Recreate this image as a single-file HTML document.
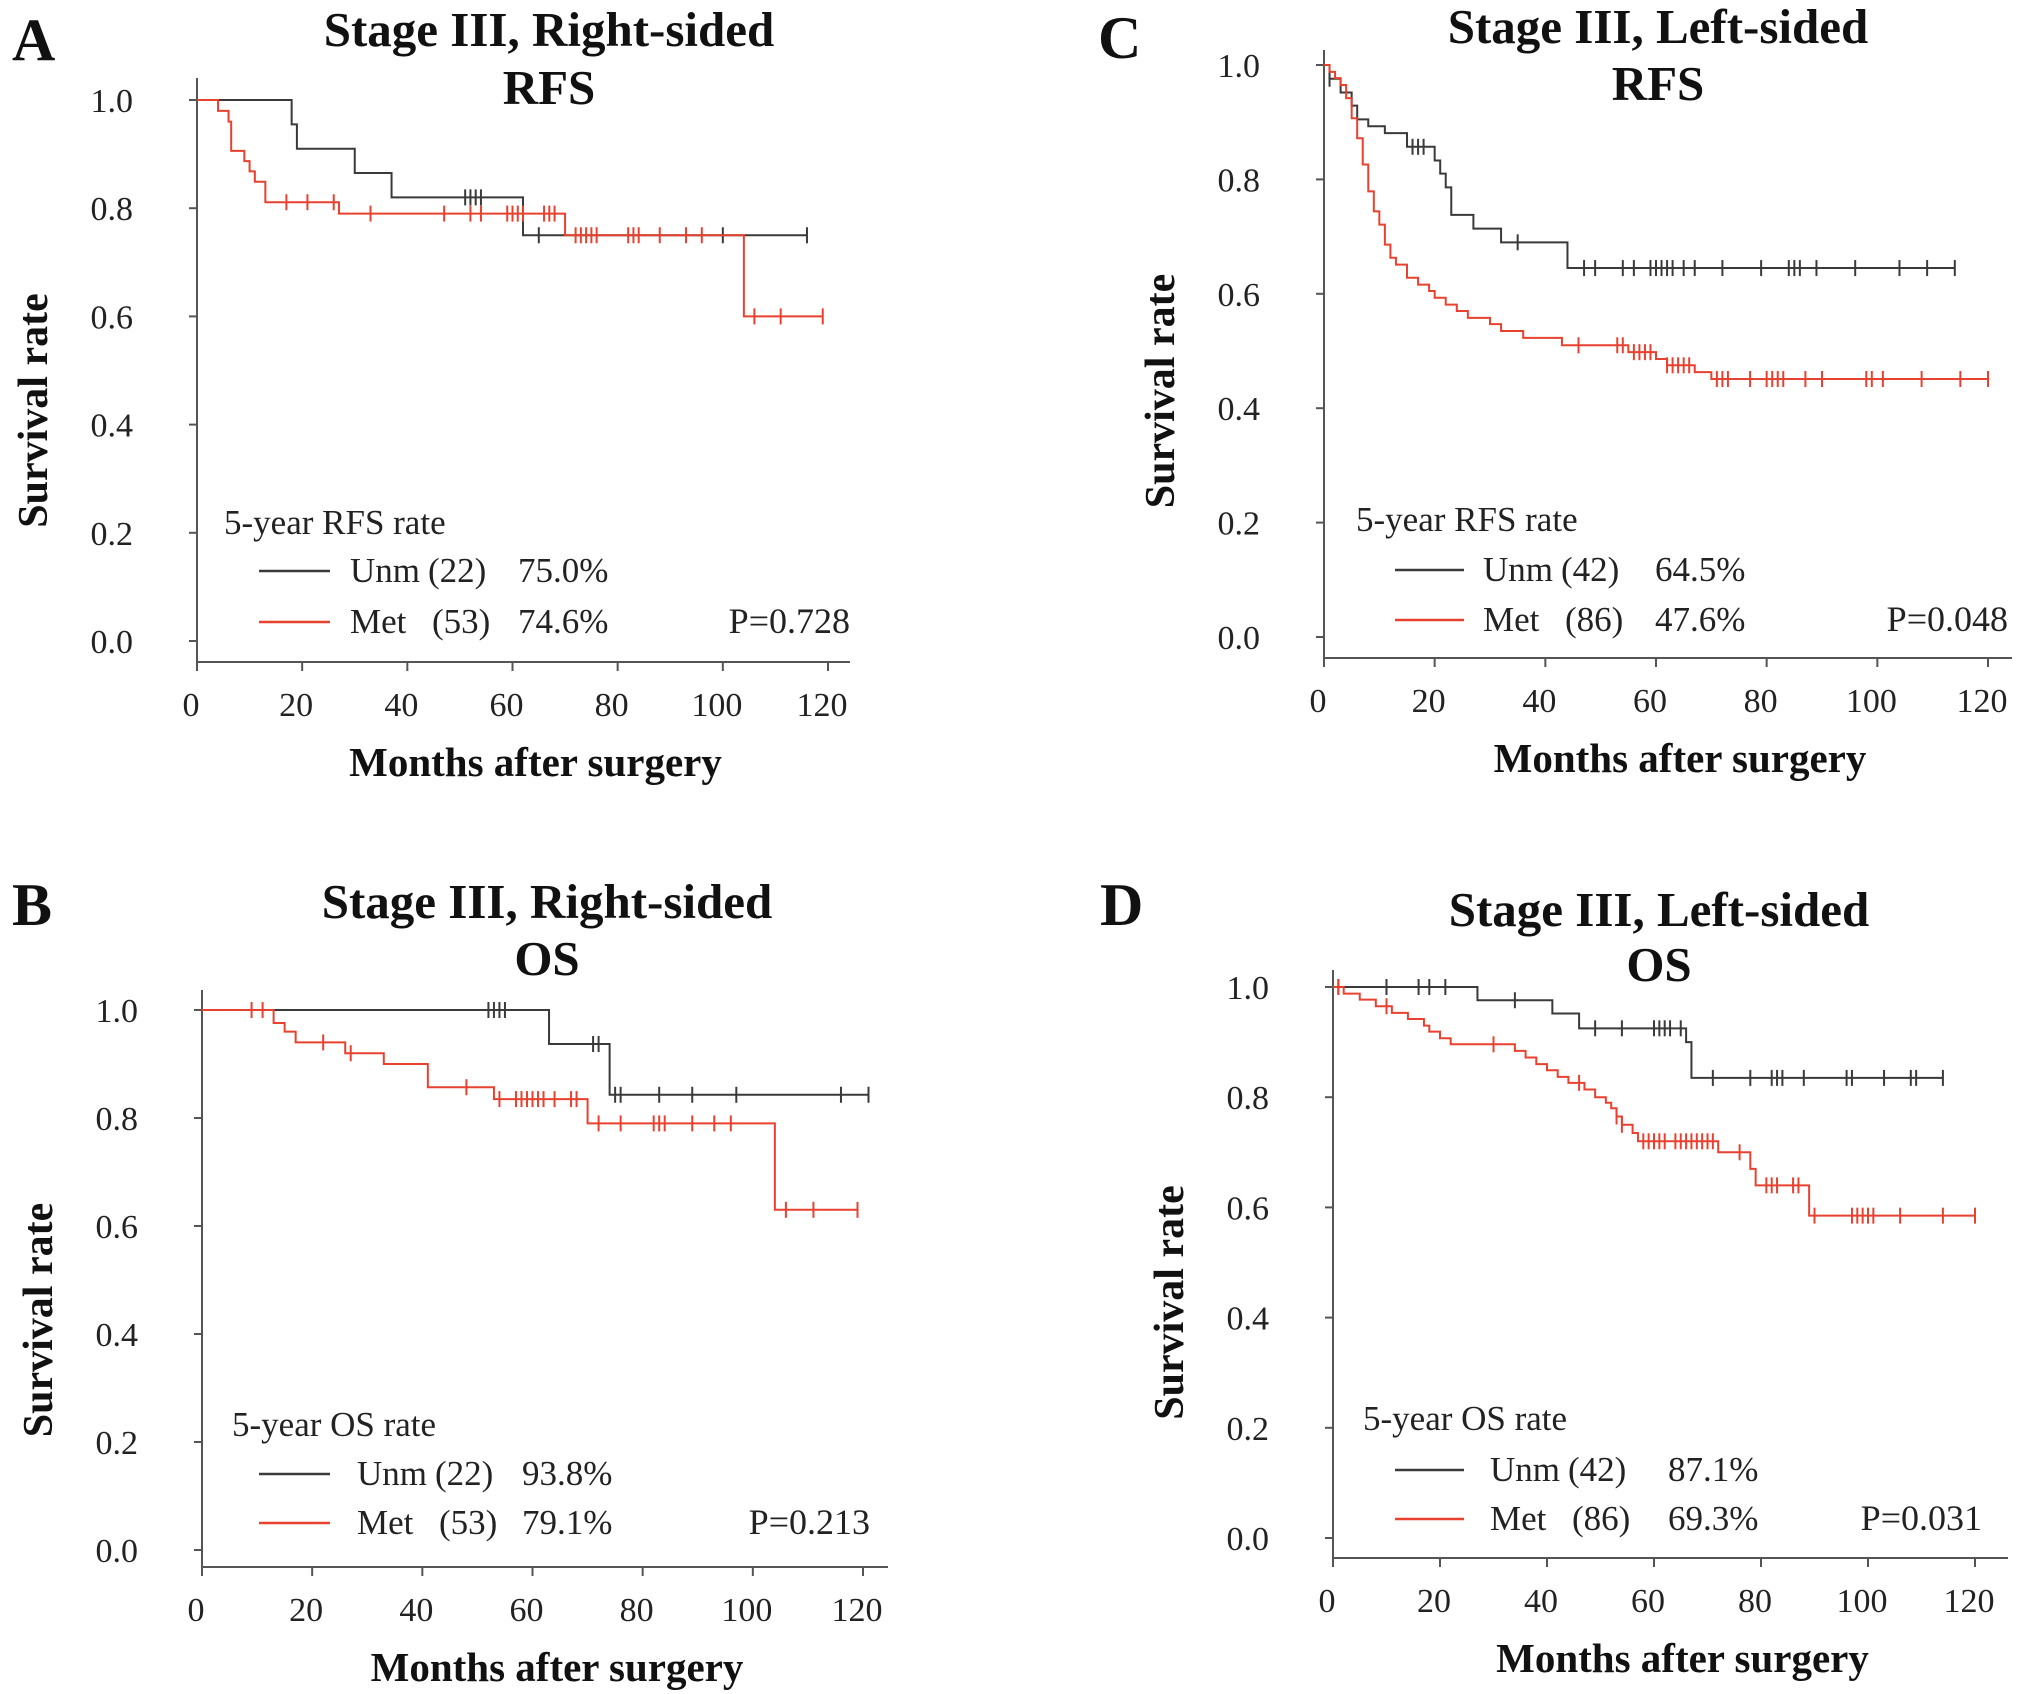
<!DOCTYPE html>
<html><head><meta charset="utf-8">
<style>
html,body{margin:0;padding:0;background:#fff;}
svg{display:block;}
svg text{font-family:"Liberation Serif",serif;}
</style></head>
<body>
<svg id="fig" width="2031" height="1694" viewBox="0 0 2031 1694" xmlns="http://www.w3.org/2000/svg"></svg>
<script>
// ---- Data (step times, survival after step, censor times) ----
const xTicks = [0,20,40,60,80,100,120];
const yTicks = [0.0,0.2,0.4,0.6,0.8,1.0];

// Panel A: Stage III right-sided RFS
const aUnmT = [18,19,30,37,62];
const aUnmS = [0.955,0.91,0.865,0.82,0.75];
const aUnmC = [51,52,53,54,65,100,116];
const aMetT = [4,6,6.5,9,10,11,13,27,70,104];
const aMetS = [0.98,0.96,0.906,0.887,0.868,0.849,0.811,0.79,0.75,0.60];
const aMetC = [17,21,26,33,47,52,54,59,60,61,62,66,67,68,72,73,74,75,76,82,83,84,88,93,96,106,111,119];

// Panel B: Stage III right-sided OS
const bUnmT = [63,74];
const bUnmS = [0.937,0.843];
const bUnmC = [52,53,54,55,71,72,75,76,83,89,97,116,121];
const bMetT = [13,15,17,26,33,41,53,70,104];
const bMetS = [0.976,0.96,0.94,0.92,0.90,0.857,0.835,0.79,0.63];
const bMetC = [9,11,22,27,48,54,57,58,59,60,61,62,64,67,68,72,76,82,83,84,89,93,96,106,111,119];

// Panel C: Stage III left-sided RFS
const cUnmT = [1,3,5,6,8,11,15,20,21,22,23,27,32,44];
const cUnmS = [0.976,0.952,0.929,0.905,0.893,0.881,0.857,0.833,0.81,0.786,0.738,0.714,0.69,0.645];
const cUnmC = [1,16,17,18,35,47,49,54,56,59,60,61,62,63,65,67,72,79,84,85,86,89,96,104,109,114];
const cMetT = [1,2,3,4,5,6,7,8,9,10,11,12,13,15,17,19,20,22,24,26,30,32,36,43,55,60,62,67,70];
const cMetS = [0.988,0.977,0.965,0.942,0.907,0.872,0.826,0.779,0.744,0.721,0.686,0.663,0.651,0.628,0.616,0.605,0.593,0.581,0.57,0.558,0.547,0.535,0.523,0.51,0.498,0.486,0.475,0.463,0.451];
const cMetC = [46,53,54,56,57,58,59,62,63,64,65,66,71,72,73,77,80,81,82,83,87,90,98,99,101,108,115,120];

// Panel D: Stage III left-sided OS
const dUnmT = [27,41,46,66,67];
const dUnmS = [0.976,0.952,0.925,0.9,0.835];
const dUnmC = [1,10,16,18,21,34,49,54,60,61,62,63,65,71,78,82,83,84,88,96,97,103,108,109,114];
const dMetT = [2,5,8,11,14,17,18,20,22,34,36,38,40,42,44,47,49,51,52,53,54,56,57,72,78,79,89];
const dMetS = [0.988,0.977,0.965,0.953,0.942,0.93,0.919,0.907,0.896,0.884,0.872,0.86,0.849,0.837,0.826,0.814,0.80,0.79,0.78,0.765,0.75,0.735,0.72,0.70,0.67,0.64,0.585];
const dMetC = [1,10,30,46,53,54,58,59,60,61,62,64,65,66,67,68,69,70,71,76,81,82,83,86,87,90,97,98,99,100,101,106,114,120];

// ---- Layout (not data) ----
const panels = [
 {id:'a',letter:'A',lx:12,ly:60,title:['Stage III, Right-sided','RFS'],tx:549,ty:[46,104],
  x0:197,x1:828,y0:641,y1:100,axTop:78,axBottom:662,axRight:850,
  legHead:'5-year RFS rate',hx:224,hy:534,r1:582,r2:633,lnx:[259,330],tx1:350,px:518,P:'P=0.728',Px:850,
  unm:[aUnmT,aUnmS,aUnmC],met:[aMetT,aMetS,aMetC],n:['(22)','(53)'],pct:['75.0%','74.6%']},
 {id:'b',letter:'B',lx:12,ly:925,title:['Stage III, Right-sided','OS'],tx:547,ty:[918,975],
  x0:202,x1:863,y0:1550,y1:1010,axTop:990,axBottom:1567,axRight:888,
  legHead:'5-year OS rate',hx:232,hy:1436,r1:1485,r2:1534,lnx:[259,330],tx1:357,px:522,P:'P=0.213',Px:870,
  unm:[bUnmT,bUnmS,bUnmC],met:[bMetT,bMetS,bMetC],n:['(22)','(53)'],pct:['93.8%','79.1%']},
 {id:'c',letter:'C',lx:1098,ly:58,title:['Stage III, Left-sided','RFS'],tx:1658,ty:[43,100],
  x0:1324,x1:1988,y0:637,y1:65,axTop:50,axBottom:658,axRight:2012,
  legHead:'5-year RFS rate',hx:1356,hy:531,r1:581,r2:631,lnx:[1395,1464],tx1:1483,px:1655,P:'P=0.048',Px:2008,
  unm:[cUnmT,cUnmS,cUnmC],met:[cMetT,cMetS,cMetC],n:['(42)','(86)'],pct:['64.5%','47.6%']},
 {id:'d',letter:'D',lx:1100,ly:925,title:['Stage III,  Left-sided','OS'],tx:1659,ty:[926,981],
  x0:1333,x1:1975,y0:1538,y1:987,axTop:970,axBottom:1558,axRight:2008,
  legHead:'5-year OS rate',hx:1363,hy:1430,r1:1481,r2:1530,lnx:[1395,1464],tx1:1490,px:1668,P:'P=0.031',Px:1982,
  unm:[dUnmT,dUnmS,dUnmC],met:[dMetT,dMetS,dMetC],n:['(42)','(86)'],pct:['87.1%','69.3%']}
];

const NS='http://www.w3.org/2000/svg';
const svg=document.getElementById('fig');
function mk(tag,attrs,parent,text){
  const e=document.createElementNS(NS,tag);
  for(const k in attrs) e.setAttribute(k,attrs[k]);
  if(tag==='text') e.setAttribute('font-family','Liberation Serif, serif');
  if(text!==undefined) e.textContent=text;
  parent.appendChild(e);
  return e;
}
const BLACK='#3a3a3a', RED='#e8412f';

function survAt(T,S,t){let s=1;for(let i=0;i<T.length;i++){if(T[i]<=t)s=S[i];}return s;}

panels.forEach(p=>{
  const g=mk('g',{},svg);
  
  
  const X=t=>p.x0+(p.x1-p.x0)*t/120;
  const Y=v=>p.y0+(p.y1-p.y0)*v;

  let e=mk('text',{x:p.lx,y:p.ly,'font-size':60,'font-weight':'bold',fill:'#111'},g,p.letter);
  
  
  p.title.forEach((t,i)=>{
    const te=mk('text',{x:p.tx,y:p.ty[i],'font-size':49,'font-weight':'bold','text-anchor':'middle',fill:'#111'},g,t);
    
    
  });
  e=mk('line',{x1:p.x0,y1:p.axTop,x2:p.x0,y2:p.axBottom,stroke:'#555','stroke-width':2},g);
  
  
  e=mk('line',{x1:p.x0,y1:p.axBottom,x2:p.axRight,y2:p.axBottom,stroke:'#555','stroke-width':2},g);
  
  
  yTicks.forEach(v=>{
    mk('line',{x1:p.x0-8,y1:Y(v),x2:p.x0,y2:Y(v),stroke:'#555','stroke-width':2},g);
    const t=mk('text',{x:p.x0-64,y:Y(v)+12,'font-size':34,'text-anchor':'end',fill:'#222'},g,v.toFixed(1));
    
    
  });
  xTicks.forEach(v=>{
    mk('line',{x1:X(v),y1:p.axBottom,x2:X(v),y2:p.axBottom+9,stroke:'#555','stroke-width':2},g);
    const t=mk('text',{x:X(v)-6,y:p.axBottom+54,'font-size':34,'text-anchor':'middle',fill:'#222'},g,String(v));
    
    
  });
  e=mk('text',{x:(p.x0+p.axRight)/2+12,y:p.axBottom+114,'font-size':41,'font-weight':'bold','text-anchor':'middle',fill:'#111'},g,'Months after surgery');
  
  
  const ycx=p.x0-150, ycy=(p.y0+p.y1)/2+40;
  e=mk('text',{x:ycx,y:ycy,'font-size':42,'font-weight':'bold','text-anchor':'middle',fill:'#111',transform:`rotate(-90 ${ycx} ${ycy})`},g,'Survival rate');
  
  

  [['unm',BLACK],['met',RED]].forEach(([key,col])=>{
    const [T,S,C]=p[key];
    let d=`M${X(0)},${Y(1)}`;
    for(let i=0;i<T.length;i++){d+=` H${X(T[i])} V${Y(S[i])}`;}
    const last=Math.max(T[T.length-1],C[C.length-1]);
    d+=` H${X(last)}`;
    const path=mk('path',{d:d,fill:'none',stroke:col,'stroke-width':2},g);
    
    
    C.forEach(t=>{
      const y=Y(survAt(T,S,t));
      const c=mk('line',{x1:X(t),y1:y-8,x2:X(t),y2:y+8,stroke:col,'stroke-width':2},g);
      
      
    });
  });

  e=mk('text',{x:p.hx,y:p.hy,'font-size':35,fill:'#222'},g,p.legHead);
  
  
  [[p.r1,BLACK,'Unm',p.n[0],p.pct[0]],[p.r2,RED,'Met',p.n[1],p.pct[1]]].forEach(([ry,col,lab,n,pc],i)=>{
    const le=mk('g',{},g);
    
    
    mk('line',{x1:p.lnx[0],y1:ry-11,x2:p.lnx[1],y2:ry-11,stroke:col,'stroke-width':2.5},le);
    mk('text',{x:p.tx1,y:ry,'font-size':35,fill:'#222'},le,lab);
    mk('text',{x:p.tx1+(i==0?78:82),y:ry,'font-size':35,fill:'#222'},le,n);
    mk('text',{x:p.px,y:ry,'font-size':35,fill:'#222'},le,pc);
  });
  e=mk('text',{x:p.Px,y:p.r2,'font-size':36,'text-anchor':'end',fill:'#222'},g,p.P);
  
  
});
</script>
</body></html>
